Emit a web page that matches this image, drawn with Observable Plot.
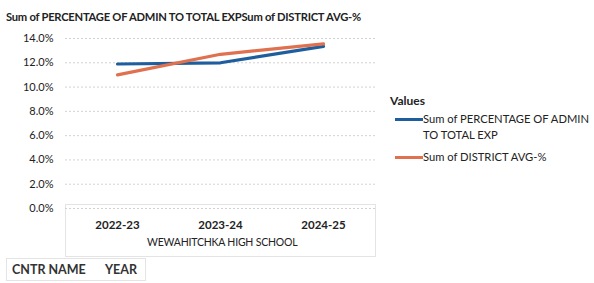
<!DOCTYPE html>
<html><head><meta charset="utf-8">
<script src="https://cdn.jsdelivr.net/npm/d3@7"></script>
<script src="https://cdn.jsdelivr.net/npm/@observablehq/plot@0.6"></script>
<style>
body{margin:0;background:#fff;font-family:Lato,"Open Sans",sans-serif;}
#wrap{position:relative;width:594px;height:283px;overflow:hidden;}
.t{position:absolute;white-space:nowrap;color:#222;}
.sw{position:absolute;height:3px;width:28px;}
.box{position:absolute;border:1px solid #e4e4e4;box-sizing:border-box;}
</style></head>
<body><div id="wrap"></div>
<script>
const years = ["2022-23", "2023-24", "2024-25"];
const adminPct = [11.9, 12.0, 13.35];
const districtAvg = [11.0, 12.7, 13.55];
const yTicks = [0, 2, 4, 6, 8, 10, 12, 14];
const seriesNames = ["Sum of PERCENTAGE OF ADMIN TO TOTAL EXP", "Sum of DISTRICT AVG-%"];
const colors = ["#1f5e9c", "#e0714f"];
const titleText = "Sum of PERCENTAGE OF ADMIN TO TOTAL EXPSum of DISTRICT AVG-%";
const schoolName = "WEWAHITCHKA HIGH SCHOOL";

const rows = [];
years.forEach((y, i) => {
  rows.push({year: y, value: adminPct[i], series: seriesNames[0]});
  rows.push({year: y, value: districtAvg[i], series: seriesNames[1]});
});

const wrap = document.getElementById("wrap");
function addBox(x, y, w, h) {
  const b = document.createElement("div");
  b.className = "box";
  Object.assign(b.style, {left: x + "px", top: y + "px", width: w + "px", height: h + "px"});
  wrap.appendChild(b);
}
addBox(65, 204, 311, 53);
addBox(6, 258, 140, 23);

const chart = Plot.plot({
  width: 594, height: 283,
  marginTop: 38, marginBottom: 75, marginLeft: 65, marginRight: 219,
  style: {fontFamily: "Lato, 'Open Sans', sans-serif", fontSize: "11px", color: "#222", background: "transparent"},
  x: {type: "point", domain: years, padding: 0.5},
  y: {domain: [0, 14]},
  color: {domain: seriesNames, range: colors},
  marks: [
    Plot.ruleY(yTicks, {stroke: "#d2d2d2", strokeDasharray: "2,2", strokeWidth: 1}),
    Plot.axisY({ticks: yTicks, tickSize: 0, tickPadding: 12, tickFormat: d => d.toFixed(1) + "%", label: null, fontSize: 11}),
    Plot.axisX({tickSize: 0, tickPadding: 8, label: null, fontSize: 11.5, fontWeight: "bold", dy: 4}),
    Plot.line(rows, {x: "year", y: "value", z: "series", stroke: "series", strokeWidth: 3.2, curve: "linear"})
  ]
});
chart.style.position = "absolute"; chart.style.left = "0"; chart.style.top = "0";
wrap.appendChild(chart);

function addText(txt, x, y, css) {
  const d = document.createElement("div");
  d.className = "t"; d.textContent = txt;
  d.style.left = x + "px"; d.style.top = y + "px";
  Object.assign(d.style, css || {});
  wrap.appendChild(d);
  return d;
}
addText(titleText, 6, 10, {fontSize: "11.2px", fontWeight: "bold", letterSpacing: "-0.25px"});
addText(schoolName, 147, 236, {fontSize: "10.5px", letterSpacing: "-0.2px"});
addText("CNTR NAME", 12, 262, {fontSize: "12.5px", fontWeight: "bold", color: "#333"});
addText("YEAR", 105, 262, {fontSize: "12.5px", fontWeight: "bold", color: "#333"});
addText("Values", 390, 93, {fontSize: "12px", fontWeight: "bold"});
const l1 = document.createElement("div"); l1.className = "sw"; l1.style.left = "395px"; l1.style.top = "118px"; l1.style.background = colors[0]; wrap.appendChild(l1);
const l2 = document.createElement("div"); l2.className = "sw"; l2.style.left = "395px"; l2.style.top = "156px"; l2.style.background = colors[1]; wrap.appendChild(l2);
addText("Sum of PERCENTAGE OF ADMIN", 423, 112, {fontSize: "11.2px"});
addText("TO TOTAL EXP", 423, 128, {fontSize: "11.2px"});
addText(seriesNames[1], 423, 150, {fontSize: "11.2px"});
</script></body></html>
